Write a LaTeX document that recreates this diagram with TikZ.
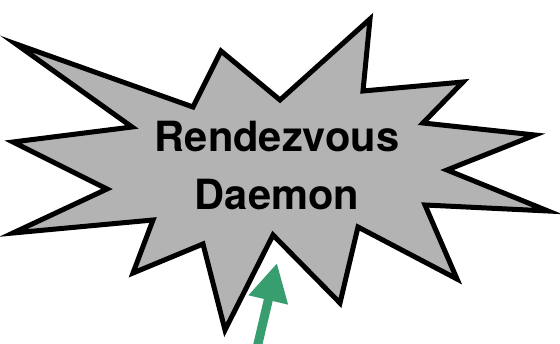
\documentclass[tikz,border=0pt]{standalone}
\usepackage{fontspec}
\setmainfont{TeX Gyre Heros}
\usepackage{tikz}
\usetikzlibrary{arrows.meta, positioning, calc}
\usepackage{xcolor}

\definecolor{burstgray}{RGB}{179,179,179}
\definecolor{arrowgreen}{RGB}{56,158,112}

\begin{document}
\begin{tikzpicture}[
  x=1pt, y=-1pt,
  burst/.style   = {draw=black, line width=5pt, fill=burstgray, line join=miter, miter limit=20},
  daemontext/.style = {font=\fontsize{41.6}{58}\selectfont\bfseries, align=center, inner sep=0pt},
  garr/.style    = {-{Triangle[length=38pt, width=38pt]}, line width=9pt, draw=arrowgreen},
]
\useasboundingbox (0,0) rectangle (560,344);

% ── Starburst outline (outer tip / inner notch, clockwise) ───────────────────
\draw[burst] (16,44) -- (193,107) -- (221,51) -- (280,100) -- (370,19)
  -- (363,91) -- (463,82) -- (423,123) -- (535,135) -- (447,170)
  -- (548,211) -- (425,205) -- (457,279) -- (358,227) -- (340,303)
  -- (273,235) -- (225,330) -- (203,244) -- (133,273) -- (153,220)
  -- (13,233) -- (107,189) -- (13,142) -- (132,127) -- cycle;

% ── Label ────────────────────────────────────────────────────────────────────
\node[daemontext] (daemon) at (277,166) {Rendezvous\\Daemon};

% ── Incoming arrow from below ────────────────────────────────────────────────
\coordinate (src)  at (256.5,350);
\coordinate (dtip) at (277,263);
\draw[garr] (src) -- (dtip);
\end{tikzpicture}
\end{document}
